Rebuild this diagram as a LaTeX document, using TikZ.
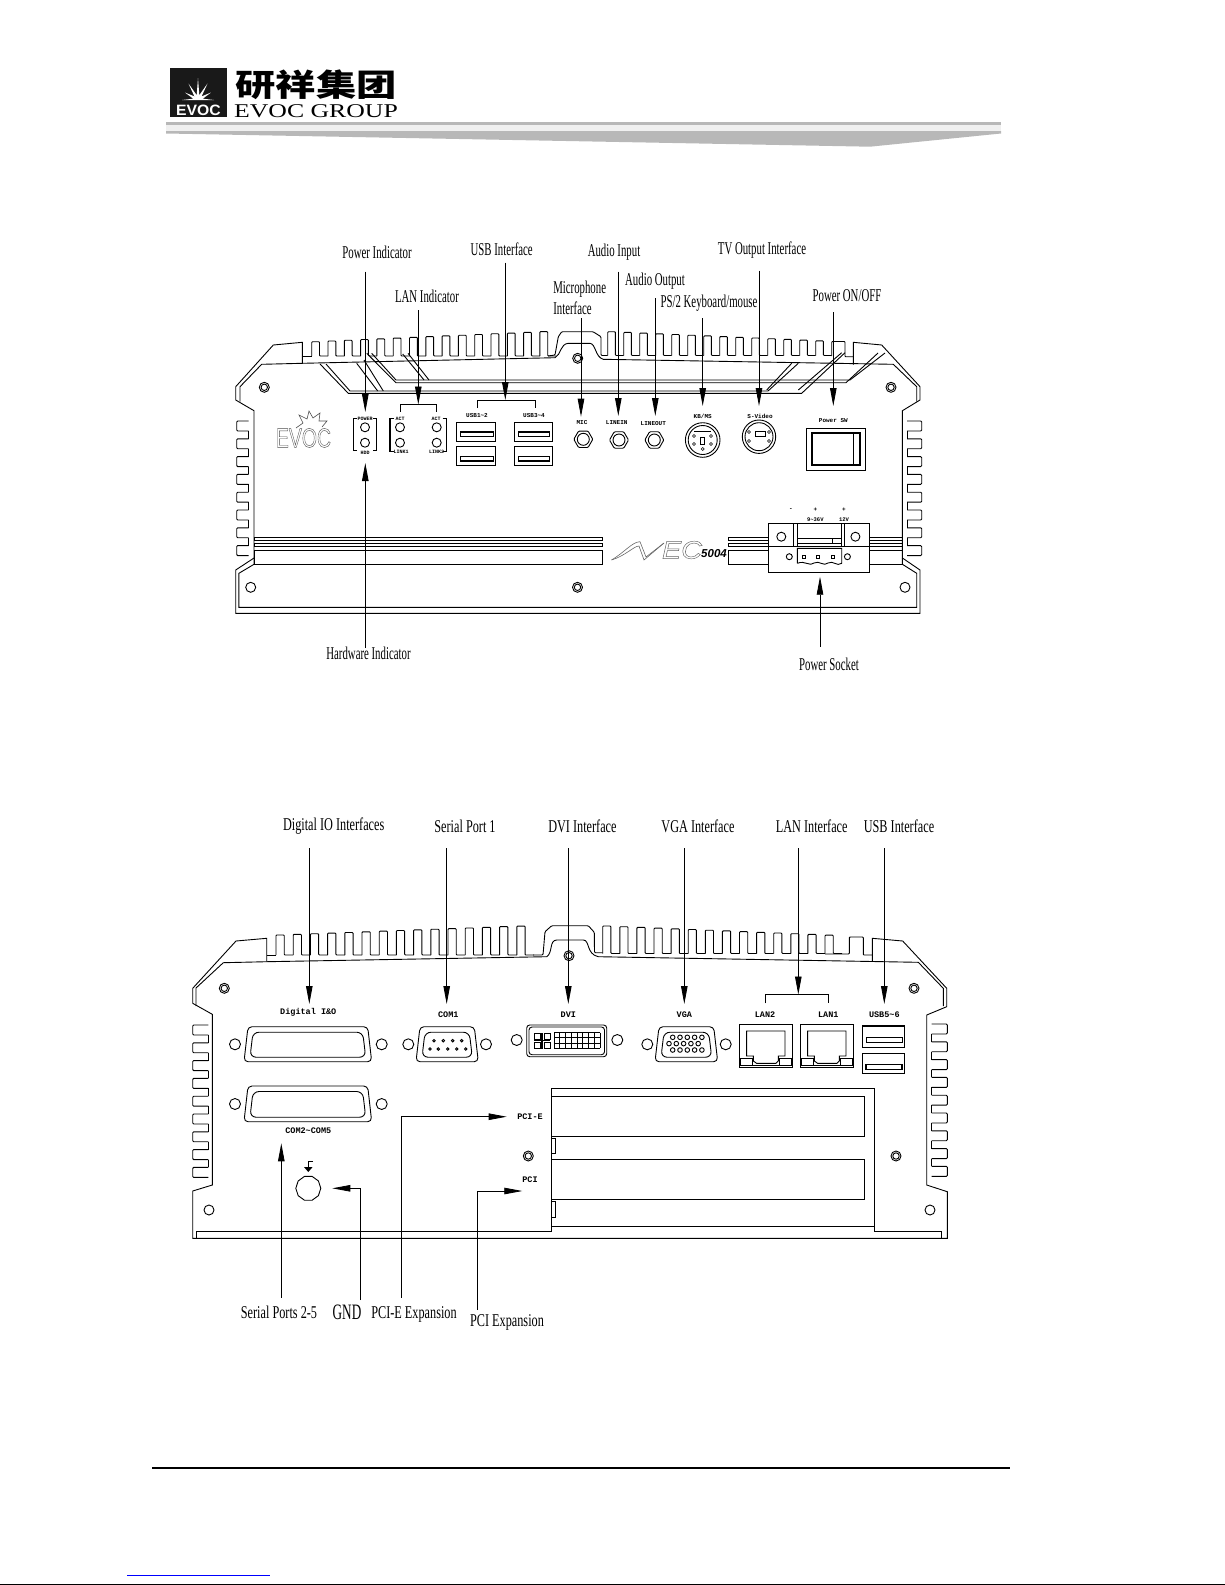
\documentclass[tikz,border=0pt]{standalone}
\usepackage{fontspec}
\setmainfont{Liberation Serif}
\setsansfont{Liberation Sans}
\setmonofont{Liberation Mono}
\newfontfamily\cjk{Noto Sans CJK SC}
\usetikzlibrary{arrows.meta}

\begin{document}
\begin{tikzpicture}[x=1pt,y=-1pt,line width=.9pt,
	lbl/.style={font=\fontsize{18}{18}\selectfont,xscale=.6,inner sep=0pt},
	lblb/.style={font=\fontsize{18}{18}\selectfont,xscale=.68,inner sep=0pt},
	tag/.style={font=\ttfamily\bfseries\fontsize{8.5}{8.5}\selectfont,inner sep=0pt},
	tagsm/.style={font=\ttfamily\bfseries\fontsize{6}{6}\selectfont,inner sep=0pt},
	tagxs/.style={font=\ttfamily\bfseries\fontsize{5}{5}\selectfont,inner sep=0pt},
	ptr/.style={line width=.8pt,-{Stealth[length=18pt,width=6.5pt,inset=0pt]}}]
	\useasboundingbox (0,0) rectangle (1225,1585);
	\definecolor{barg}{gray}{.72}

	% repeated parts
	\def\outl#1{\special{pdf:code 1 Tr .45 w}#1\special{pdf:code 0 Tr}}
	\def\screw#1#2{\draw (#1,#2) circle (5);}
	\def\screwb#1#2{\draw (#1,#2) circle (5); \draw (#1,#2) circle (3.2);}
	\def\usbport#1#2#3#4#5{\draw[line width=1.2pt] (#1,#2) rectangle (#3,#4);
		\draw[line width=1.2pt] (#1+3.8,#5) rectangle (#3-2.6,#5+4.5);}
	\def\dsub#1#2#3#4{\draw[rounded corners=4pt] (#1+4,#2) -- (#1+#3-4,#2) -- (#1+#3,#2+#4) -- (#1,#2+#4) -- cycle;
		\draw[rounded corners=6pt] (#1+9,#2+5.5) -- (#1+#3-9,#2+5.5) -- (#1+#3-6,#2+#4-4.5) -- (#1+6,#2+#4-4.5) -- cycle;}
	\def\jack#1#2{\draw[shift={(#1,#2)},rounded corners=1pt] (0:9.5) -- (60:9.5) -- (120:9.5) -- (180:9.5) -- (240:9.5) -- (300:9.5) -- cycle;
		\draw (#1,#2) circle (6);}
	\def\lanport#1#2{\begin{scope}[shift={(#1,#2)}]
		\draw[line width=1.2pt] (0,0) rectangle (53.3,43.3);
		\draw (7.3,31.7) -- (7.3,6.7) -- (45.7,6.7) -- (45.7,31.7) -- (39,31.7) -- (39,36.7) -- (36.7,39) -- (17.3,39) -- (14,36.7) -- (14,31.7) -- cycle;
		\draw (.7,34) rectangle (13,40.7);
		\draw (40,34) rectangle (52.3,40.7);
		\draw (0,41) -- (53.3,41);
	\end{scope}}
	\def\topfins#1#2#3#4#5#6{
		\foreach \i in {0,...,#2} {
			\pgfmathsetmacro\xa{#1+#3*\i}
			\pgfmathsetmacro\xb{\xa+#3*.48}
			\pgfmathsetmacro\xc{\xa+#3}
			\pgfmathsetmacro\yt{#4+#5*\i}
			\draw[rounded corners=.8pt] (\xa,#6) -- (\xa,\yt) -- (\xb,\yt) -- (\xb,#6) -- (\xc,#6);
		}}
	\def\sidefins#1#2#3#4#5{
		\foreach \i in {0,...,#5} {
			\pgfmathsetmacro\ya{#3+#4*\i}
			\pgfmathsetmacro\yb{\ya+#4*.56}
			\pgfmathsetmacro\yc{\ya+#4}
			\draw[rounded corners=1pt] (#1,\ya) -- (#2,\ya) -- (#2,\yb) -- (#1,\yb);
			\ifnum\i<#5 \draw (#1,\yb) -- (#1,\yc); \fi
		}}

	% page head
	\fill[black!90] (170,68) rectangle (227,117);
	\fill[white,shift={(198,100)}] (0:16) \foreach \a/\r in {-15/5,-30/15,-45/5,-60/19,-75/5,-90/22,-105/5,-120/19,-135/5,-150/15,-165/5,-180/16} {-- (\a:\r)} -- cycle;
	\node[font=\sffamily\bfseries\fontsize{15}{15}\selectfont,text=white,xscale=1.05,inner sep=0pt] (evocw) at (198.5,110) {EVOC};
	\node[font=\cjk\bfseries\fontsize{31}{31}\selectfont,xscale=1.3,inner sep=0pt] (cnname) at (316,85) {研祥集团};
	\node[font=\fontsize{19.5}{19.5}\selectfont,xscale=1.32,inner sep=0pt] (enname) at (316,111) {EVOC GROUP};
	\fill[barg] (166,122) rectangle (1001,125.3);
	\fill[black!6] (166,125.3) rectangle (1001,131);
	\fill[barg] (166,131) -- (1001,131) -- (1001,133.5) -- (870,146.7) -- (166,133.5) -- cycle;

	% upper panel, labels
	\node[lbl] (lpwr) at (377,252) {Power Indicator};
	\node[lbl] (lusb) at (501.7,249) {USB Interface};
	\node[lbl] (llan) at (427,296) {LAN Indicator};
	\node[lbl,anchor=west] (lmic) at (553,289) {Microphone};
	\node[lbl,anchor=west] (lmicb) at (553,308) {Interface};
	\node[lbl] (lain) at (614,251.7) {Audio Input};
	\node[lbl] (ltv) at (762,250) {TV Output Interface};
	\node[lbl] (laout) at (655,281) {Audio Output};
	\node[lbl] (lps) at (709,303) {PS/2 Keyboard/mouse};
	\node[lbl] (lsw) at (847,296) {Power ON/OFF};
	\node[lbl] (lhw) at (368.5,653) {Hardware Indicator};
	\node[lbl] (lsock) at (829,664) {Power Socket};

	% upper panel, arrows
	\foreach \n/\x/\ya/\yb in {pwr/365.3/271.7/412,lan/418.3/310/404.5,usb/505.3/262.7/400,mic/581/318/416.7,
		ain/618.3/271.7/416,aout/655.3/298/416,ps/702.7/318/406,tv/759/270.7/406,sw/833.3/312/406,
		hw/365.3/648/463,sock/820/646.7/576.7} {
		\coordinate (\n a) at (\x,\ya);
		\coordinate (\n b) at (\x,\yb);
		\draw[ptr] (\n a) -- (\n b);
	}
	\draw (400,411.7) |- (436.7,404.5) -- (436.7,411.7);
	\draw (477.3,408) |- (535,400) -- (535,408);

	% upper panel, body
	\draw (302.3,363.3) -- (302.3,342.3) -- (273.3,345) -- (235.7,386.7) -- (235.7,400) -- (254,410.7) -- (254,558) -- (235.7,570) -- (235.7,613.3)
		-- (920,613.3) -- (920,570) -- (902.4,558) -- (902.4,410.7) -- (920,400) -- (920,386.7) -- (881.7,345) -- (853.3,342.3) -- (853.3,364.5);
	\draw (254,558) -- (254,564.3) -- (238.9,573.3) -- (238.9,607.3) -- (916.7,607.3) -- (916.7,573.3) -- (902.4,564.3) -- (902.4,558);
	\draw (302.3,356.7) -- (311.7,356.7);
	\topfins{311.7}{14}{16.3}{341.7}{-.72}{356}
	\draw[rounded corners=1pt] (548,356) -- (555,355) -- (558.3,336.7) -- (561.7,331.7) -- (593,331.7) -- (601,336.7) -- (601,355.5) -- (607.7,355.5);
	\topfins{607.7}{13}{16}{331.7}{.7}{355.5}
	\draw[rounded corners=.8pt] (831.7,356) -- (831.7,341.5) -- (845,341.5) -- (845,356.7) -- (853.3,356.7);
	\draw (240,401.7) -- (240,386.7) -- (261.7,364.3) -- (302.3,363.3) -- (555,357.7) .. controls (561,355) and (560,344) .. (568.3,343.3) -- (590,343.3)
		.. controls (596,344) and (595,357) .. (603.3,359.3) -- (893.3,364.3) -- (916.7,386.7) -- (916.7,401.7);
	\sidefins{248.5}{236.7}{421}{17.8}{7}
	\sidefins{907}{921.7}{421}{17.8}{7}

	% grooves of the upper panel
	\draw (320,364) -- (348.3,393.3) -- (801.7,393.3) -- (845,352.7);
	\draw (326,364) -- (350,391) -- (768,391) -- (798.3,363.3);
	\draw (356.7,363.3) -- (377.7,391);
	\draw (364,360) -- (383.3,391);
	\draw (366.7,353.3) -- (396,382.7) -- (846,382.7) -- (878,353);
	\draw (371.7,353.3) -- (396,380) -- (850,380) -- (885,353);
	\draw (402.7,354) -- (424,380);
	\draw (408,353.3) -- (429,380);
	\draw (791.7,363.3) -- (766.7,390);
	\draw (841.7,352.7) -- (798.3,390);
	\foreach \y/\yy in {537.3/540,543.3/546.3,550/564.3} {
		\draw (254,\y) rectangle (602,\yy);
		\draw (728,\y) rectangle (902.4,\yy);
	}

	% upper panel, small parts
	\screwb{264.3}{387.3}
	\screwb{577.7}{358.3}
	\screwb{891}{387.3}
	\screw{250.7}{587.3}
	\screwb{577.5}{587.3}
	\screw{905}{587.3}
	% panel logo
	\draw[black!70,line width=.6pt] (296,428) -- (303,423) -- (299,415) -- (307,419) -- (309,411) -- (313,418) -- (320,413) -- (319,421) -- (327,421) -- (322,427);
	\node[font=\sffamily\fontsize{27}{27}\selectfont,text=black!70,xscale=.72,inner sep=0pt] (evocg) at (303.5,438) {\outl{EVOC}};
	% LEDs
	\draw (357.3,418.3) -| (353.3,450) -- (357.3,450);
	\draw (372.7,418.3) -| (376.7,450) -- (372.7,450);
	\draw[line width=1.2pt] (394,418.3) -| (390,451.7) -- (394,451.7);
	\draw (442.7,418.3) -| (446.7,451.7) -- (442.7,451.7);
	\foreach \x/\y in {365/427.3,365/442.7,400/427.3,400/442.7,436.7/427.3,436.7/442.7} {\draw (\x,\y) circle (4.5);}
	\node[tagxs] (tpwr) at (365,419) {POWER};
	\node[tagxs] (thdd) at (365,452.7) {HDD};
	\node[tagxs] (tacta) at (400,419.3) {ACT};
	\node[tagxs] (tactb) at (436,419.3) {ACT};
	\node[tagxs] (tlka) at (401,451.7) {LINK1};
	\node[tagxs] (tlkb) at (436.7,451.7) {LINK2};
	% USB
	\node[tagsm] (tusba) at (477,415.3) {USB1\textasciitilde2};
	\node[tagsm] (tusbb) at (534,415.3) {USB3\textasciitilde4};
	\usbport{456.7}{422.3}{495.7}{441.7}{432}
	\usbport{456.7}{446.7}{495.7}{465.7}{456.5}
	\usbport{514.7}{422.3}{552.3}{441.7}{432}
	\usbport{514.7}{446.7}{552.3}{465.7}{456.5}
	% audio
	\node[tagsm] (tmic) at (582,422.7) {MIC};
	\node[tagsm] (tin) at (616.7,422.7) {LINEIN};
	\node[tagsm] (tout) at (653.3,423.3) {LINEOUT};
	\jack{583.3}{439.3}
	\jack{619}{440}
	\jack{654.3}{440}
	% KB and S-Video
	\node[tagsm] (tkb) at (702.7,416.7) {KB/MS};
	\node[tagsm] (tsv) at (760,416.7) {S-Video};
	\draw (702.7,440) circle (17.3);
	\draw (702.7,440) circle (14.5);
	\draw (700.7,437) rectangle (704.7,444);
	\draw (694,431) -- (711,431);
	\draw (759,436.7) circle (16.7);
	\draw (759,436.7) circle (14);
	\draw (755,431.5) rectangle (765,436);
	\foreach \x/\y in {694/436,694/444,711/436,711/444,702.7/449,749/432,749/441,769/432,769/441} {\draw[line width=.6pt] (\x,\y) circle (1.5);}
	% power switch
	\node[tagsm] (tsw) at (833.3,420.7) {Power SW};
	\draw (806,428) rectangle (865.7,470);
	\draw[line width=2pt] (811.7,433.3) rectangle (860,465);
	\draw (853.3,433.3) -- (853.3,465);
	% model
	\draw[black!60,line width=.6pt] (611.5,560) .. controls (625,552) and (632,542) .. (640,541.7) -- (646,557) -- (664,543);
	\draw[black!60,line width=.6pt] (611.5,560) .. controls (625,556) and (634,546) .. (639,546) -- (644,560) -- (664,543);
	\node[font=\sffamily\itshape\fontsize{25}{25}\selectfont,text=black!60,xscale=1.15,inner sep=0pt] (tmec) at (682,550) {\outl{EC}};
	\node[font=\sffamily\bfseries\itshape\fontsize{11.5}{11.5}\selectfont,inner sep=0pt] (tmodel) at (714,554) {5004};
	% power socket
	\draw[fill=white] (768.1,523.3) rectangle (869,572.3);
	\draw (768.1,546.3) -- (869,546.3);
	\draw (793,523.3) -- (793,546.3);
	\draw (797.4,523.3) -- (797.4,546.3);
	\draw (841.7,523.3) -- (841.7,546.3);
	\draw (844.5,523.3) -- (844.5,546.3);
	\draw (797.4,538.3) -- (841.7,538.3);
	\draw (797.4,543.3) -- (841.7,543.3);
	\draw (832,538.3) -- (832,543.3);
	\draw (781.3,536.7) circle (4.5);
	\draw (855.4,536.7) circle (4.5);
	\draw (789.3,556.7) circle (3);
	\draw (847.4,556.7) circle (3);
	\draw (797.4,563.3) -- (797.4,548.3) -- (841.7,548.3) -- (841.7,563.3) .. controls (837,567) and (833,560) .. (828,563) .. controls (824,567) and (819,560) .. (814,563) .. controls (810,567) and (805,560) .. (797.4,563.3);
	\foreach \x in {804,818,833} {\draw (\x-1.5,555.2) rectangle (\x+1.5,558.2);}
	\node[tagsm] (tminus) at (790.8,510) {-};
	\node[tagsm] (tplusa) at (815.3,510) {+};
	\node[tagsm] (tplusb) at (844,510) {+};
	\node[font=\ttfamily\bfseries\fontsize{5.5}{5.5}\selectfont,inner sep=0pt] (tva) at (815.3,519.3) {9\textasciitilde36V};
	\node[font=\ttfamily\bfseries\fontsize{5.5}{5.5}\selectfont,inner sep=0pt] (tvb) at (844,519.3) {12V};

	% lower panel, labels
	\node[lblb] (ldio) at (333.7,826) {Digital IO Interfaces};
	\node[lblb] (lcom) at (465,826) {Serial Port 1};
	\node[lblb] (ldvi) at (582.4,826) {DVI Interface};
	\node[lblb] (lvga) at (698,826) {VGA Interface};
	\node[lblb] (lnet) at (811.7,826) {LAN Interface};
	\node[lblb] (lusbb) at (899,826) {USB Interface};
	\node[lblb] (lser) at (279,1312.7) {Serial Ports 2-5};
	\node[lbl,font=\fontsize{22}{22}\selectfont] (lgnd) at (347,1312) {GND};
	\node[lblb] (lpcie) at (414,1314) {PCI-E Expansion};
	\node[lblb] (lpci) at (507,1322.7) {PCI Expansion};

	% lower panel, arrows
	\foreach \n/\x/\ya/\yb in {dio/309.3/848/1004,com/446.7/848/1004,dvi/568.3/848/1004,vga/684.3/848/1004,
		net/798.3/848/994.5,ub/884.3/848/1004,ser/281.3/1297.7/1143.3} {
		\coordinate (\n a) at (\x,\ya);
		\coordinate (\n b) at (\x,\yb);
		\draw[ptr] (\n a) -- (\n b);
	}
	\coordinate (gnda) at (360.7,1300);
	\coordinate (gndb) at (332.3,1188.3);
	\coordinate (piea) at (401.7,1297.7);
	\coordinate (pieb) at (506.7,1116.7);
	\coordinate (pcia) at (477.3,1310);
	\coordinate (pcib) at (522.3,1191);
	\draw[ptr] (gnda) |- (gndb);
	\draw[ptr] (piea) |- (pieb);
	\draw[ptr] (pcia) |- (pcib);
	\draw (765.7,1003.3) |- (828.3,994.5) -- (828.3,1003.3);

	% lower panel, body
	\draw (266.7,961.7) -- (266.7,938.3) -- (236,941) -- (192.7,988.3) -- (192.7,1003.3) -- (212.3,1014.3) -- (212.3,1185) -- (192.7,1191) -- (192.7,1238.3)
		-- (947.3,1238.3) -- (947.3,1191.7) -- (926.7,1185) -- (926.7,1015) -- (946.7,1006.7) -- (946.7,988.3) -- (902.7,941) -- (872.3,938.3) -- (872.3,961.5);
	\draw (196.7,1238.3) -- (196.7,1231.7) -- (551.7,1231.7) -- (551.7,1088.3) -- (874.3,1088.3) -- (874.3,1231.7) -- (941.7,1231.7) -- (941.7,1238.3);
	\draw (551.7,1226.7) -- (874.3,1226.7);
	\draw (551.7,1096) -| (864.3,1136.7) -- (551.7,1136.7);
	\draw (551.7,1159.3) -| (864.3,1199.3) -- (551.7,1199.3);
	\draw (551.7,1138.3) -| (555.7,1153.3) -- (551.7,1153.3);
	\draw (551.7,1201.7) -| (555.7,1217.3) -- (551.7,1217.3);
	\draw (266.7,955) -- (276,955);
	\topfins{276}{14}{17.2}{935}{-.64}{955}
	\draw[rounded corners=1pt] (533,955) -- (543,955) -- (545,931.7) -- (551.7,925.7) -- (588.3,925.7) -- (594.3,932.3) -- (594.5,952.7) -- (602.7,952.7);
	\topfins{602.7}{13}{17.1}{926}{.7}{953.5}
	\draw[rounded corners=.8pt] (825,954) -- (849.3,954) -- (849.3,937) -- (863.3,937) -- (863.3,955) -- (872.3,955);
	\draw (196,1006) -- (196,988) -- (223.3,962.7) -- (266.7,961.7) -- (546.7,956.7) .. controls (553,953) and (549,940) .. (556.7,940) -- (583.3,940)
		.. controls (590,940) and (586,954) .. (598.3,956.7) -- (918.3,962.3) -- (943.3,988.3) -- (943.3,1006);
	\sidefins{208.3}{192.7}{1025}{17.8}{8}
	\sidefins{931.7}{947.3}{1024}{17.8}{8}

	% lower panel, small parts
	\screwb{224.3}{988.3}
	\screwb{569}{955.7}
	\screwb{914}{988.3}
	\screwb{528.3}{1156}
	\screwb{896}{1156}
	\screw{209}{1210}
	\screw{930}{1210}
	\foreach \x/\y in {235/1044.3,381.7/1044.3,235/1104,381.7/1104,408.3/1044.3,486/1044.3,516.7/1040,617.3/1040,647.3/1044.3,725.7/1044.3} {\draw (\x,\y) circle (5.5);}
	\node[tag] (tdio) at (308.3,1012.7) {Digital I\&O};
	\node[tag] (tcom) at (448.3,1014.3) {COM1};
	\node[tag] (tdvi) at (568.3,1014.3) {DVI};
	\node[tag] (tvga) at (684.3,1014.3) {VGA};
	\node[tag] (tlanb) at (765,1014.3) {LAN2};
	\node[tag] (tlana) at (828.3,1014.3) {LAN1};
	\node[tag] (tusbc) at (884.3,1014.3) {USB5\textasciitilde6};
	\node[tag] (tcoms) at (308.3,1131) {COM2\textasciitilde COM5};
	\node[tag] (tpcie) at (530,1116.7) {PCI-E};
	\node[tag] (tpci) at (530,1180) {PCI};
	\dsub{244}{1026.7}{127.7}{35}
	\dsub{244}{1086}{127.7}{35.7}
	\dsub{416}{1026.7}{62.3}{35}
	\dsub{655}{1026.7}{62.7}{35}
	\foreach \x in {434,443.3,452.7,461.7} {\draw (\x,1040.7) circle (1.3);}
	\foreach \x in {430,438.3,447.7,456.7,465.7} {\draw (\x,1049) circle (1.3);}
	% DVI
	\draw[rounded corners=3pt] (526.7,1025) rectangle (606.7,1056.7);
	\draw[rounded corners=3pt] (529,1027) rectangle (604.5,1054.7);
	\draw (534,1033) rectangle (540,1039);
	\draw (544,1033) rectangle (550,1039);
	\draw (534,1042.5) rectangle (540,1048.5);
	\draw (544,1042.5) rectangle (550,1048.5);
	\draw[line width=1.2pt] (534,1040.7) -- (550,1040.7);
	\draw[line width=1.2pt] (542,1033) -- (542,1048.5);
	\foreach \i in {0,...,8} {\draw (554+5.75*\i,1032.7) -- (554+5.75*\i,1048.3);}
	\foreach \j in {0,...,3} {\draw (554,1032.7+5.2*\j) -- (600,1032.7+5.2*\j);}
	% VGA pins
	\foreach \x in {672.7,680,687.3,694.6,701.9} {\draw (\x,1037.3) circle (2.3); \draw (\x,1050) circle (2.3);}
	\foreach \x in {669,676.3,683.6,690.9,698.2} {\draw (\x,1043.6) circle (2.3);}
	% LAN and USB
	\lanport{739.3}{1024.3}
	\lanport{800.3}{1024.3}
	\draw[line width=1.2pt] (862.3,1026) rectangle (904.7,1047.7);
	\draw (866,1037.7) rectangle (902,1042.7);
	\draw[line width=1.2pt] (862.3,1053.3) rectangle (904.7,1073.3);
	\draw[line width=1.2pt] (866,1064.3) rectangle (902,1069.3);
	% GND
	\draw[shift={(308.3,1188.3)}] (0:12.5) \foreach \a in {36,72,...,324} {-- (\a:12.5)} -- cycle;
	\draw[line width=1.3pt] (313,1161.5) -- (308.3,1161.5) -- (308.3,1168);
	\fill (304,1167) -- (312.6,1167) -- (308.3,1172) -- cycle;

	% page foot
	\fill (151.5,1466.7) rectangle (1010,1469.3);
	\draw[blue,line width=1.2pt] (127.3,1575.3) -- (269.7,1575.3);
	\draw[line width=.8pt] (0,1584.6) -- (1225,1584.6);
\end{tikzpicture}
\end{document}
